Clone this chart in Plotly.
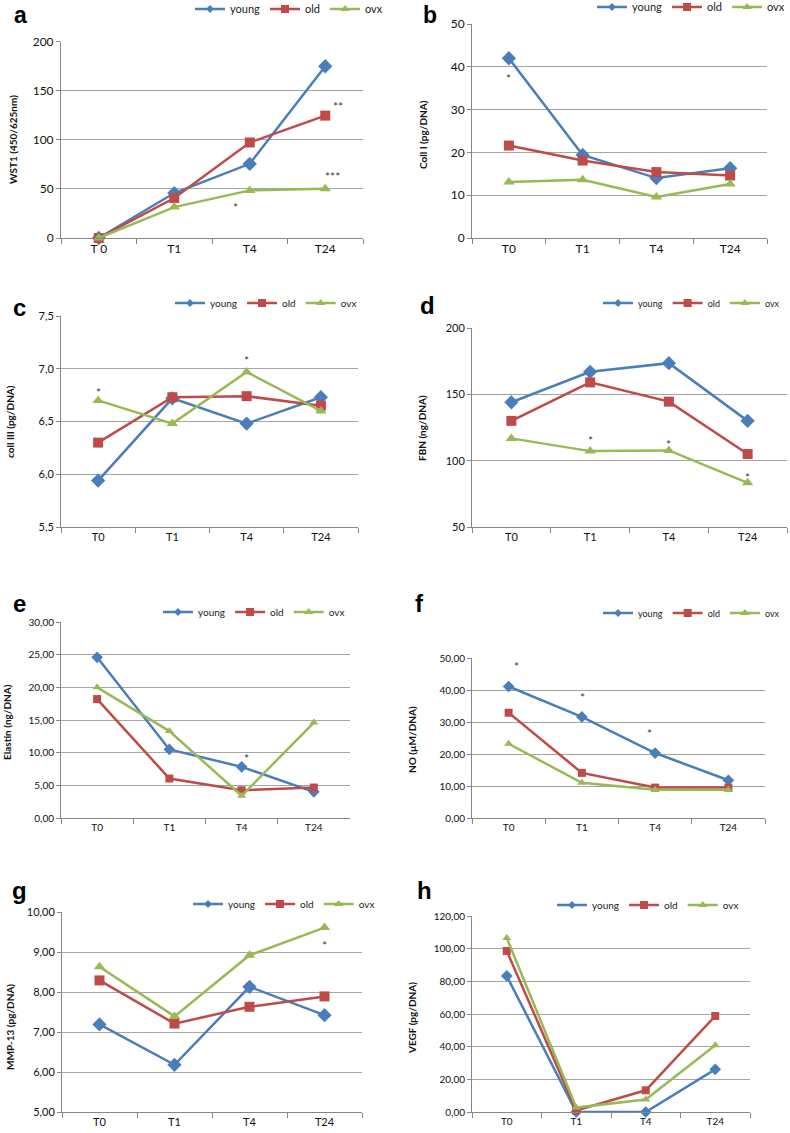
import plotly.graph_objects as go

W, H = 790, 1133
FONT = "Lato, Open Sans, sans-serif"

categories = ["T0", "T1", "T4", "T24"]
cat_labels_a = ["T 0", "T1", "T4", "T24"]
series_names = ["young", "old", "ovx"]

# a: WST1
a_young = [0, 45.8, 75.6, 175]
a_old = [0, 40.7, 97.3, 124.7]
a_ovx = [0, 31.5, 48.5, 50.2]
# b: Coll I
b_young = [42.0, 19.4, 14.0, 16.3]
b_old = [21.6, 18.1, 15.4, 14.6]
b_ovx = [13.1, 13.6, 9.6, 12.6]
# c: coll III
c_young = [5.94, 6.72, 6.48, 6.73]
c_old = [6.30, 6.73, 6.74, 6.65]
c_ovx = [6.70, 6.48, 6.97, 6.60]
# d: FBN
d_young = [144, 167, 173.5, 130]
d_old = [130, 159, 144.5, 105]
d_ovx = [116.8, 107.2, 107.7, 83.3]
# e: Elastin
e_young = [24.6, 10.5, 7.83, 4.0]
e_old = [18.2, 6.04, 4.25, 4.66]
e_ovx = [20.0, 13.3, 3.4, 14.6]
# f: NO
f_young = [41.1, 31.6, 20.3, 11.8]
f_old = [32.9, 14.1, 9.5, 9.5]
f_ovx = [23.2, 11.0, 8.85, 8.85]
# g: MMP-13
g_young = [7.19, 6.18, 8.13, 7.42]
g_old = [8.29, 7.21, 7.63, 7.89]
g_ovx = [8.63, 7.39, 8.92, 9.61]
# h: VEGF
h_young = [83.3, 0.0, 0.0, 26.1]
h_old = [98.6, 1.0, 13.3, 58.8]
h_ovx = [106.5, 2.7, 7.6, 40.8]

colors = {"young": "#4A7EBB", "old": "#BE4B48", "ovx": "#98B954"}
symbols = {"young": "diamond", "old": "square", "ovx": "triangle-up"}
legend_marker_size = {"young": 6, "old": 8, "ovx": 8}

def px(x):
    return x / W

def py(y):
    return 1 - y / H

panels = [
    dict(letter="a", title="WST1 (450/625nm)", data=(a_young, a_old, a_ovx),
         box=(61, 363, 41.7, 238), yr=(0, 200), dt=50, fmt="d", tf=12, ms=10, lf=11,
         lpos=(20, 0), lanchor="top", tpos=(13, 140), leg=(190, 9), xl=cat_labels_a,
         stars=[("T24", 137.5, "**", 13), ("T24", 66, "***", 7), ("T4", 34.6, "*", -14)]),
    dict(letter="b", title="Coll I (pg/DNA)", data=(b_young, b_old, b_ovx),
         box=(472, 767, 24, 238), yr=(0, 50), dt=10, fmt="d", tf=12, ms=10, lf=11,
         lpos=(430, 0), lanchor="top", tpos=(423, 135), leg=(592, 7), xl=categories,
         stars=[("T0", 37.9, "*", 0)]),
    dict(letter="c", title="coll III (pg/DNA)", data=(c_young, c_old, c_ovx),
         box=(61, 358, 316, 527), yr=(5.5, 7.5), dt=0.5, fmt=".1f", tf=11, ms=10, lf=10,
         lpos=(19, 307), lanchor="middle", tpos=(10, 422), leg=(170, 303), xl=categories,
         stars=[("T0", 6.80, "*", 0), ("T4", 7.11, "*", 0)]),
    dict(letter="d", title="FBN (ng/DNA)", data=(d_young, d_old, d_ovx),
         box=(472, 787, 328, 527), yr=(50, 200), dt=50, fmt="d", tf=11, ms=10, lf=9,
         lpos=(427, 305), lanchor="middle", tpos=(422, 428), leg=(598, 303), xl=categories,
         stars=[("T1", 117.8, "*", 0), ("T4", 114.1, "*", 0), ("T24", 89.2, "*", 0)]),
    dict(letter="e", title="Elastin (ng/DNA)", data=(e_young, e_old, e_ovx),
         box=(61, 350, 622, 818), yr=(0, 30), dt=5, fmt=".2f", tf=10, ms=8, lf=10,
         lpos=(19, 603), lanchor="middle", tpos=(7, 722), leg=(158, 612), xl=categories,
         stars=[("T4", 9.6, "*", 5)]),
    dict(letter="f", title="NO (µM/DNA)", data=(f_young, f_old, f_ovx),
         box=(472, 765, 658, 818), yr=(0, 50), dt=10, fmt=".2f", tf=10, ms=8, lf=9,
         lpos=(420, 603), lanchor="middle", tpos=(412, 740), leg=(598, 613), xl=categories,
         stars=[("T0", 48.4, "*", 8), ("T1", 38.75, "*", 1), ("T4", 27.2, "*", -6)]),
    dict(letter="g", title="MMP-13 (pg/DNA)", data=(g_young, g_old, g_ovx),
         box=(62, 362, 912, 1112), yr=(5, 10), dt=1, fmt=".2f", tf=11, ms=10, lf=10,
         lpos=(19, 890), lanchor="middle", tpos=(10, 1027), leg=(188, 904), xl=categories,
         stars=[("T24", 9.25, "*", 0)]),
    dict(letter="h", title="VEGF (pg/DNA)", data=(h_young, h_old, h_ovx),
         box=(472, 750, 916, 1112), yr=(0, 120), dt=20, fmt=".2f", tf=10, ms=8, lf=10,
         lpos=(424, 890), lanchor="middle", tpos=(412, 1018), leg=(552, 905), xl=categories,
         stars=[]),
]

fig = go.Figure()
layout = dict(
    width=W, height=H, margin=dict(l=0, r=0, t=0, b=0, autoexpand=False),
    paper_bgcolor="white", plot_bgcolor="white",
    separators=",.", font=dict(family=FONT, color="#222222"),
    showlegend=True,
)
annotations = []

for i, p in enumerate(panels, start=1):
    xa = "x" if i == 1 else f"x{i}"
    ya = "y" if i == 1 else f"y{i}"
    lg = "legend" if i == 1 else f"legend{i}"
    x0, x1, y0, y1 = p["box"]
    for name, vals in zip(series_names, p["data"]):
        fig.add_trace(go.Scatter(
            x=categories, y=vals, name=name, mode="lines+markers",
            line=dict(color=colors[name], width=2.5),
            marker=dict(symbol=symbols[name], size=p["ms"] + (1 if name == "young" else 0),
                        color=colors[name]),
            xaxis=xa, yaxis=ya, showlegend=False, cliponaxis=False,
        ))
    # legend entries (smaller symbols, as in the original legend)
    for name in series_names:
        fig.add_trace(go.Scatter(
            x=[None], y=[None], name=name, mode="lines+markers",
            line=dict(color=colors[name], width=2.5),
            marker=dict(symbol=symbols[name], size=legend_marker_size[name], color=colors[name]),
            xaxis=xa, yaxis=ya, legend=lg, showlegend=True,
        ))
    layout["xaxis" if i == 1 else f"xaxis{i}"] = dict(
        domain=[px(x0), px(x1)], anchor=ya, type="category",
        categoryorder="array", categoryarray=categories,
        range=[-0.5, 3.5], tickson="boundaries", ticks="outside", ticklen=5,
        tickcolor="#868686", showline=True, linecolor="#868686", linewidth=1,
        showgrid=False, zeroline=False, tickmode="array",
        tickvals=categories, ticktext=p["xl"],
        tickfont=dict(size=p["tf"], family=FONT, color="#111111"),
    )
    layout["yaxis" if i == 1 else f"yaxis{i}"] = dict(
        domain=[py(y1), py(y0)], anchor=xa, range=list(p["yr"]), dtick=p["dt"],
        tick0=p["yr"][0], tickformat=p["fmt"], ticks="outside", ticklen=4,
        tickcolor="#868686", showline=True, linecolor="#868686", linewidth=1,
        showgrid=True, gridcolor="#A6A6A6", gridwidth=1, zeroline=False,
        tickfont=dict(size=p["tf"], family=FONT, color="#111111"),
    )
    layout[lg] = dict(
        orientation="h", x=px(p["leg"][0]), y=py(p["leg"][1]),
        xanchor="left", yanchor="middle", bgcolor="rgba(0,0,0,0)",
        font=dict(size=p["lf"], family=FONT, color="#222222"),
        itemwidth=30, tracegroupgap=0,
    )
    annotations.append(dict(
        text=f"<b>{p['letter']}</b>", x=px(p["lpos"][0]), y=py(p["lpos"][1]),
        xref="paper", yref="paper", showarrow=False, xanchor="center",
        yanchor=p["lanchor"],
        font=dict(size=24 if p["lanchor"] == "middle" else 23,
                  family="Liberation Sans, Arial, sans-serif", color="#000000"),
    ))
    annotations.append(dict(
        text=f"<b>{p['title']}</b>", x=px(p["tpos"][0]), y=py(p["tpos"][1]),
        xref="paper", yref="paper", showarrow=False, textangle=-90,
        xanchor="center", yanchor="middle",
        font=dict(size=10, family=FONT, color="#111111"),
    ))
    for cat, val, txt, dx in p["stars"]:
        annotations.append(dict(
            text=txt, x=cat, y=val, xref=xa, yref=ya, showarrow=False,
            xshift=dx, yshift=-3, xanchor="center", yanchor="middle",
            font=dict(size=12, family=FONT, color="#404040"),
        ))

layout["annotations"] = annotations
fig.update_layout(**layout)
fig.write_html(
    "out.html",
    config={"displayModeBar": False},
    post_script="document.body.style.margin='0';document.body.style.overflow='hidden';",
)
